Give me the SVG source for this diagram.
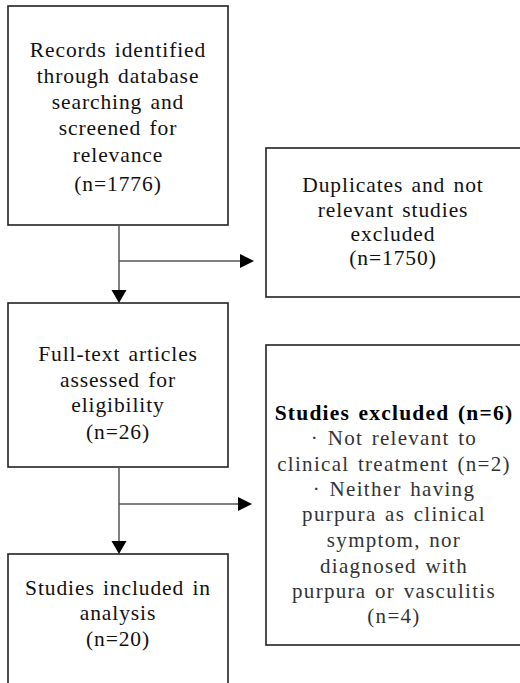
<svg xmlns="http://www.w3.org/2000/svg" width="520" height="683" viewBox="0 0 520 683">
<style>
.box{fill:#fff;stroke:#222;stroke-width:1.6}
.t{font-family:"Liberation Serif","Noto Sans CJK KR",serif;font-size:21.5px;letter-spacing:0.9px;word-spacing:2px;fill:#111;text-anchor:middle}
.s{fill:#333;font-size:21px;letter-spacing:1.3px}
.b{font-weight:bold;fill:#000;letter-spacing:1.2px}
.ln{stroke:#555;stroke-width:1.5;fill:none}
.ah{fill:#000}
</style>
<rect width="520" height="683" fill="#fff"/>
<g id="records">
<rect class="box" x="8" y="6" width="220" height="219"/>
<text class="t" x="118" y="57">Records identified</text>
<text class="t" x="118" y="83">through database</text>
<text class="t" x="118" y="109">searching and</text>
<text class="t" x="118" y="135">screened for</text>
<text class="t" x="118" y="162">relevance</text>
<text class="t" x="118" y="191">(n=1776)</text>
</g>
<g id="duplicates">
<rect class="box" x="266" y="148" width="270" height="149"/>
<text class="t" x="393" y="192">Duplicates and not</text>
<text class="t" x="393" y="217">relevant studies</text>
<text class="t" x="393" y="241">excluded</text>
<text class="t" x="393" y="265">(n=1750)</text>
</g>
<g id="fulltext">
<rect class="box" x="8" y="303" width="220" height="164"/>
<text class="t" x="118" y="361">Full-text articles</text>
<text class="t" x="118" y="387">assessed for</text>
<text class="t" x="118" y="412">eligibility</text>
<text class="t" x="118" y="439">(n=26)</text>
</g>
<g id="excluded">
<rect class="box" x="266" y="345" width="270" height="300"/>
<text class="t b" x="394" y="420">Studies excluded (n=6)</text>
<text class="t s" x="394" y="445">· Not relevant to</text>
<text class="t s" x="394" y="471">clinical treatment (n=2)</text>
<text class="t s" x="394" y="496">· Neither having</text>
<text class="t s" x="394" y="521">purpura as clinical</text>
<text class="t s" x="394" y="547">symptom, nor</text>
<text class="t s" x="394" y="573">diagnosed with</text>
<text class="t s" x="394" y="598">purpura or vasculitis</text>
<text class="t s" x="394" y="623">(n=4)</text>
</g>
<g id="included">
<rect class="box" x="8" y="554" width="220" height="140"/>
<text class="t" x="118" y="595">Studies included in</text>
<text class="t" x="118" y="620">analysis</text>
<text class="t" x="118" y="646">(n=20)</text>
</g>
<g id="connectors">
<line class="ln" x1="119" y1="225" x2="119" y2="292"/>
<polygon class="ah" points="111.5,290 126.5,290 119,303"/>
<line class="ln" x1="119" y1="261" x2="241" y2="261"/>
<polygon class="ah" points="240,254 254,261 240,268"/>
<line class="ln" x1="119" y1="467" x2="119" y2="543"/>
<polygon class="ah" points="111.5,541 126.5,541 119,554"/>
<line class="ln" x1="119" y1="504" x2="239" y2="504"/>
<polygon class="ah" points="238,497 252,504 238,511"/>
</g>
</svg>
